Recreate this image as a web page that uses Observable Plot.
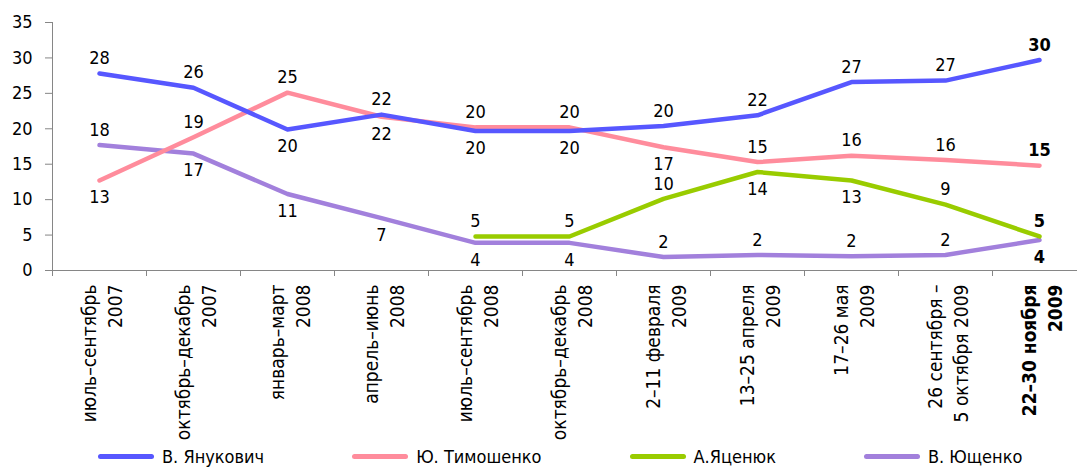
<!DOCTYPE html>
<html><head><meta charset="utf-8">
<script src="https://cdn.jsdelivr.net/npm/d3@7"></script>
<script src="https://cdn.jsdelivr.net/npm/@observablehq/plot@0.6"></script>
<style>
html,body{margin:0;padding:0;background:#fff;overflow:hidden}
body{font-family:"DejaVu Sans Condensed","DejaVu Sans",sans-serif;font-stretch:condensed;color:#000}
#legend{display:flex;align-items:center;gap:88px;padding-left:98px;height:24px;font-size:18px}
.item{display:flex;align-items:center;gap:8px}
.sw{width:56px;height:5px;border-radius:3px}
</style></head><body><div id="chart"></div><div id="legend"></div>
<script>
const periods = [
  "июль–сентябрь\n2007",
  "октябрь–декабрь\n2007",
  "январь–март\n2008",
  "апрель–июнь\n2008",
  "июль–сентябрь\n2008",
  "октябрь–декабрь\n2008",
  "2–11 февраля\n2009",
  "13–25 апреля\n2009",
  "17–26 мая\n2009",
  "26 сентября –\n5 октября 2009",
  "22–30 ноября\n2009"
];
const seriesNames = ["В. Янукович", "Ю. Тимошенко", "А.Яценюк", "В. Ющенко"];
const yanukovych = [27.8, 25.8, 19.9, 22.0, 19.7, 19.7, 20.4, 21.9, 26.6, 26.8, 29.7];
const tymoshenko = [12.7, 18.8, 25.1, 21.7, 20.2, 20.2, 17.4, 15.3, 16.2, 15.6, 14.8];
const yatseniuk  = [null, null, null, null, 4.8, 4.8, 10.1, 13.9, 12.7, 9.3, 4.8];
const yushchenko = [17.7, 16.5, 10.8, 7.4, 3.9, 3.9, 1.9, 2.2, 2.0, 2.2, 4.3];
const yTicks = [0, 5, 10, 15, 20, 25, 30, 35];

// label placement (a = above the line, b = below)
const sideYanukovych = ["a","a","b","a","b","b","a","a","a","a","a"];
const sideTymoshenko = ["b","a","a","b","a","a","b","a","a","a","a"];
const sideYatseniuk  = [null,null,null,null,"a","a","a","b","b","a","a"];
const sideYushchenko = ["a","b","b","b","b","b","a","a","a","a","b"];

const colors = ["#5757ff", "#ff8c9c", "#99cc00", "#a280dc"];
const seriesValues = [yanukovych, tymoshenko, yatseniuk, yushchenko];
const seriesSides = [sideYanukovych, sideTymoshenko, sideYatseniuk, sideYushchenko];

const rows = [];
seriesNames.forEach((s, si) => {
  seriesValues[si].forEach((v, i) => {
    if (v == null) return;
    rows.push({series: s, period: periods[i], value: v, side: seriesSides[si][i], last: i === periods.length - 1});
  });
});

const W = 1077, H = 444, ML = 52, MT = 22, MB = 174;
const xRange = [ML, 1086];
const step = (xRange[1] - xRange[0]) / periods.length;
const drawOrder = ["В. Ющенко", "А.Яценюк", "Ю. Тимошенко", "В. Янукович"];
const gray = "#868686";
const font = "18px";
const xFont = "19px";

const chart = Plot.plot({
  width: W, height: H,
  marginLeft: ML, marginRight: 0, marginTop: MT, marginBottom: MB,
  style: {fontFamily: '"DejaVu Sans Condensed","DejaVu Sans",sans-serif', fontSize: font, color: "#000", background: "#fff"},
  x: {type: "point", domain: periods, range: xRange, padding: 0.5, axis: null},
  y: {domain: [0, 35], axis: null},
  color: {domain: seriesNames, range: colors},
  marks: [
    Plot.frame({anchor: "left", stroke: gray}),
    Plot.frame({anchor: "bottom", stroke: gray}),
    Plot.axisY({ticks: yTicks, tickSize: 7, tickPadding: 13, stroke: gray, fill: "#000", fontSize: font, label: null}),
    Plot.axisX({tickSize: 6, tickFormat: () => "", dx: -step / 2, stroke: gray, label: null}),
    Plot.text(periods.slice(0, -1), {x: d => d, frameAnchor: "bottom", text: d => d, rotate: -90, textAnchor: "end", lineAnchor: "middle", lineHeight: 1.37, dy: 14, dx: 1, fontSize: xFont, fill: "#000"}),
    Plot.text(periods.slice(-1), {x: d => d, frameAnchor: "bottom", text: d => d, rotate: -90, textAnchor: "end", lineAnchor: "middle", lineHeight: 1.37, dy: 14, dx: 1, fontSize: xFont, fontWeight: "bold", fill: "#000"}),
    ...drawOrder.map(s => Plot.line(rows.filter(d => d.series === s), {x: "period", y: "value", stroke: "series", strokeWidth: 4.5, strokeLinecap: "round", strokeLinejoin: "round"})),
    Plot.text(rows.filter(d => d.side === "a" && !d.last), {x: "period", y: "value", text: d => String(Math.round(d.value)), dy: -15, fontSize: font, fill: "#000"}),
    Plot.text(rows.filter(d => d.side === "b" && !d.last), {x: "period", y: "value", text: d => String(Math.round(d.value)), dy: 17, fontSize: font, fill: "#000"}),
    Plot.text(rows.filter(d => d.side === "a" && d.last), {x: "period", y: "value", text: d => String(Math.round(d.value)), dy: -15, fontSize: font, fontWeight: "bold", fill: "#000"}),
    Plot.text(rows.filter(d => d.side === "b" && d.last), {x: "period", y: "value", text: d => String(Math.round(d.value)), dy: 17, fontSize: font, fontWeight: "bold", fill: "#000"})
  ]
});
document.getElementById("chart").appendChild(chart);

const legend = document.getElementById("legend");
seriesNames.forEach((s, i) => {
  const item = document.createElement("div");
  item.className = "item";
  const sw = document.createElement("span");
  sw.className = "sw";
  sw.style.background = colors[i];
  const t = document.createElement("span");
  t.textContent = s;
  item.appendChild(sw); item.appendChild(t);
  legend.appendChild(item);
});
</script></body></html>
